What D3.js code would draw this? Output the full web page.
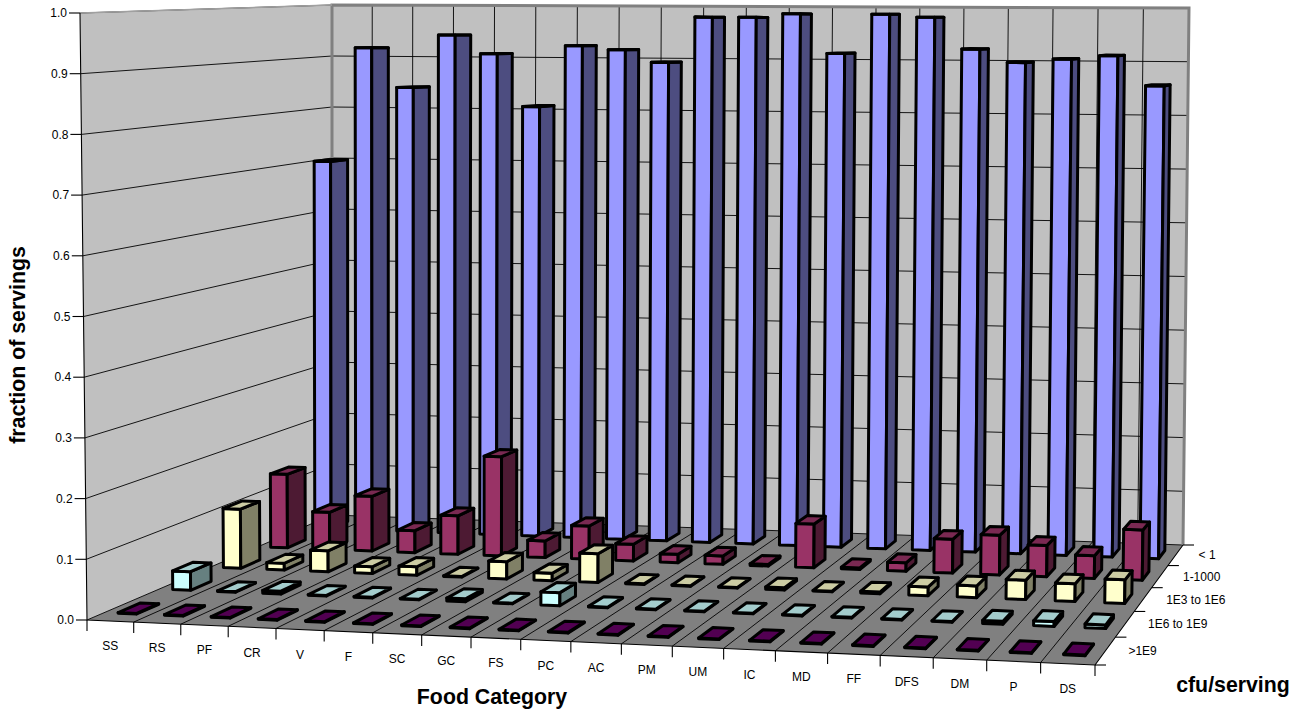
<!DOCTYPE html>
<html lang="en">

<head>
    <meta charset="UTF-8">
    <title>Fraction of servings by food category</title>
    <script src="https://d3js.org/d3.v7.min.js"></script>
    <style>
        body { margin: 0; background: #fff; }
        svg { display: block; }
        text { font-family: "Liberation Sans", Arial, sans-serif; fill: #000; }
    </style>
</head>

<body>
    <div id="chart"></div>
    <script>
        const categories = ["SS", "RS", "PF", "CR", "V", "F", "SC", "GC", "FS", "PC", "AC", "PM", "UM", "IC", "MD", "FF", "DFS", "DM", "P", "DS"];
        // front of the floor to the back
        const seriesNames = [">1E9", "1E6 to 1E9", "1E3 to 1E6", "1-1000", "< 1"];
        const yTicks = [0, 0.1, 0.2, 0.3, 0.4, 0.5, 0.6, 0.7, 0.8, 0.9, 1];

        const over1E9 = [0.001, 0.001, 0.001, 0.001, 0.001, 0.001, 0.001, 0.001, 0.001, 0.001, 0.001, 0.001, 0.001, 0.001, 0.001, 0.001, 0.001, 0.001, 0.001, 0.001];
        const from1E6 = [0.032, 0.001, 0.005, 0.001, 0.001, 0.001, 0.005, 0.001, 0.022, 0.001, 0.001, 0.001, 0.001, 0.001, 0.001, 0.001, 0.001, 0.005, 0.008, 0.006];
        const from1E3 = [0.105, 0.012, 0.037, 0.012, 0.015, 0.001, 0.03, 0.013, 0.05, 0.001, 0.001, 0.001, 0.004, 0.001, 0.003, 0.015, 0.02, 0.033, 0.03, 0.04];
        const from1 = [0.135, 0.068, 0.1, 0.04, 0.07, 0.18, 0.03, 0.06, 0.03, 0.015, 0.015, 0.003, 0.078, 0.003, 0.015, 0.06, 0.07, 0.055, 0.04, 0.088];
        const under1 = [0.7, 0.917, 0.842, 0.942, 0.907, 0.808, 0.923, 0.916, 0.893, 0.978, 0.978, 0.985, 0.912, 0.985, 0.98, 0.922, 0.898, 0.905, 0.912, 0.858];

        const seriesValues = [over1E9, from1E6, from1E3, from1, under1];
        const seriesColors = [
            { front: "#660066", side: "#330033", top: "#520052" },
            { front: "#ccffff", side: "#668080", top: "#a3cccc" },
            { front: "#ffffcc", side: "#808066", top: "#cccca3" },
            { front: "#993366", side: "#4d1a33", top: "#7a2952" },
            { front: "#9999ff", side: "#4d4d80", top: "#7a7acc" }
        ];

        const svg = d3.select("#chart").append("svg")
            .attr("width", 1299)
            .attr("height", 710);

        // Chart box as seen on the page: floor corners front-left, front-right, back-right, back-left
        const floorCorners = [[87, 620], [1095, 665], [1183, 545], [332, 515]];
        // and how far 1.0 reaches from each of those corners
        const riseAtCorners = [[-7, -607], [11, -640], [6, -537], [0, -510]];

        // unit square to quad perspective map
        function quadMap(q) {
            const [[x0, y0], [x1, y1], [x2, y2], [x3, y3]] = q;
            const dx1 = x1 - x2, dx2 = x3 - x2, sx = x0 - x1 + x2 - x3;
            const dy1 = y1 - y2, dy2 = y3 - y2, sy = y0 - y1 + y2 - y3;
            const den = dx1 * dy2 - dx2 * dy1;
            const g = (sx * dy2 - dx2 * sy) / den;
            const h = (dx1 * sy - sx * dy1) / den;
            const a = x1 - x0 + g * x1, b = x3 - x0 + h * x3;
            const d = y1 - y0 + g * y1, e = y3 - y0 + h * y3;
            return (u, v) => {
                const w = g * u + h * v + 1;
                return [(a * u + b * v + x0) / w, (d * u + e * v + y0) / w];
            };
        }
        const floorMap = quadMap(floorCorners);

        function riseAt(u, v, axis) {
            const r = riseAtCorners;
            return (1 - u) * (1 - v) * r[0][axis] + u * (1 - v) * r[1][axis] + u * v * r[2][axis] + (1 - u) * v * r[3][axis];
        }

        const xScale = d3.scaleBand().domain(categories).range([0, 1]).paddingInner(0.6).paddingOuter(0.3);
        const zScale = d3.scaleBand().domain(seriesNames).range([0, 1]).paddingInner(0.6).paddingOuter(0.3);
        const yScale = d3.scaleLinear().domain([0, 1]).range([0, 1]);

        // u across the front, v into the depth, value up the wall
        function project(u, v, value) {
            const t = yScale(value);
            const p = floorMap(u, v);
            return [p[0] + riseAt(u, v, 0) * t, p[1] + riseAt(u, v, 1) * t];
        }

        const line = d3.line();
        const closed = pts => line(pts) + "Z";

        // Walls and floor
        const walls = svg.append("g");
        walls.append("path")
            .attr("d", closed([project(0, 0, 0), project(0, 0, 1), project(0, 1, 1), project(0, 1, 0)]))
            .attr("fill", "#c0c0c0");
        walls.append("path")
            .attr("d", closed([project(0, 1, 0), project(0, 1, 1), project(1, 1, 1), project(1, 1, 0)]))
            .attr("fill", "#c0c0c0");
        walls.append("path")
            .attr("d", closed([project(0, 0, 0), project(1, 0, 0), project(1, 1, 0), project(0, 1, 0)]))
            .attr("fill", "#808080");

        // Gridlines
        const grid = svg.append("g").attr("fill", "none").attr("stroke", "#000").attr("stroke-width", 0.9);
        yTicks.forEach(t => {
            grid.append("path").attr("d", line([project(0, 0, t), project(0, 1, t), project(1, 1, t)]));
        });
        const boundaries = d3.range(0, categories.length + 1).map(i => i / categories.length);
        boundaries.slice(1, -1).forEach(u => {
            grid.append("path").attr("d", line([project(u, 1, 1), project(u, 1, 0), project(u, 0, 0)]));
        });

        // Wall edges
        const edges = svg.append("g").attr("fill", "none").attr("stroke", "#808080");
        edges.append("path").attr("stroke-width", 3)
            .attr("d", line([project(0, 1, 0), project(0, 1, 1), project(1, 1, 1), project(1, 1, 0)]));
        edges.append("path").attr("stroke-width", 1.5).attr("stroke", "#a0a0a0")
            .attr("d", line([project(0, 0, 1), project(0, 1, 1)]));

        // Axis lines and ticks
        const axes = svg.append("g").attr("fill", "none").attr("stroke", "#000").attr("stroke-width", 1.1);
        axes.append("path").attr("d", line([project(0, 0, 1), project(0, 0, 0), project(1, 0, 0), project(1, 1, 0)]));
        yTicks.forEach(t => {
            const p = project(0, 0, t);
            axes.append("path").attr("d", line([p, [p[0] - 11, p[1]]]));
        });
        boundaries.forEach(u => {
            const p = project(u, 0, 0);
            axes.append("path").attr("d", line([p, [p[0], p[1] + 11]]));
        });
        d3.range(0, seriesNames.length + 1).forEach(i => {
            const p = project(1, i / seriesNames.length, 0);
            axes.append("path").attr("d", line([p, [p[0] + 11, p[1]]]));
        });

        // Bars, back row first
        const rows = svg.append("g").attr("stroke", "#000").attr("stroke-width", 3).attr("stroke-linejoin", "round");
        d3.range(seriesNames.length - 1, -1, -1).forEach(s => {
            const name = seriesNames[s];
            const color = seriesColors[s];
            const v0 = zScale(name), v1 = v0 + zScale.bandwidth();
            const bars = rows.append("g").selectAll("g")
                .data(categories.map((c, i) => ({ c, value: seriesValues[s][i] })))
                .join("g");
            bars.append("path").attr("fill", color.front).attr("d", d => {
                const u0 = xScale(d.c), u1 = u0 + xScale.bandwidth();
                return closed([project(u0, v0, 0), project(u1, v0, 0), project(u1, v0, d.value), project(u0, v0, d.value)]);
            });
            bars.append("path").attr("fill", color.side).attr("d", d => {
                const u1 = xScale(d.c) + xScale.bandwidth();
                return closed([project(u1, v0, 0), project(u1, v1, 0), project(u1, v1, d.value), project(u1, v0, d.value)]);
            });
            bars.append("path").attr("fill", color.top).attr("d", d => {
                const u0 = xScale(d.c), u1 = u0 + xScale.bandwidth();
                return closed([project(u0, v0, d.value), project(u1, v0, d.value), project(u1, v1, d.value), project(u0, v1, d.value)]);
            });
        });

        // Tick labels
        const labels = svg.append("g").attr("font-size", 12);
        yTicks.forEach(t => {
            const p = project(0, 0, t);
            labels.append("text")
                .attr("x", p[0] - 13).attr("y", p[1]).attr("dy", "0.35em")
                .attr("text-anchor", "end")
                .text(d3.format(".1f")(t));
        });
        categories.forEach(c => {
            const p = project(xScale(c) + xScale.bandwidth() / 2, 0, 0);
            labels.append("text")
                .attr("x", p[0]).attr("y", p[1] + 25).attr("dy", "0.35em")
                .attr("text-anchor", "middle")
                .text(c);
        });
        seriesNames.forEach(s => {
            const p = project(1, zScale(s) + zScale.bandwidth() / 2, 0);
            labels.append("text")
                .attr("x", p[0] + 23).attr("y", p[1]).attr("dy", "0.35em")
                .text(s);
        });

        // Axis titles
        const titles = svg.append("g").attr("font-size", 21.3).attr("font-weight", "bold").attr("text-anchor", "middle");
        titles.append("text").attr("transform", "translate(25,345) rotate(-90)").text("fraction of servings");
        titles.append("text").attr("x", 492).attr("y", 704).text("Food Category");
        titles.append("text").attr("x", 1233).attr("y", 692).text("cfu/serving");
    </script>
</body>

</html>
